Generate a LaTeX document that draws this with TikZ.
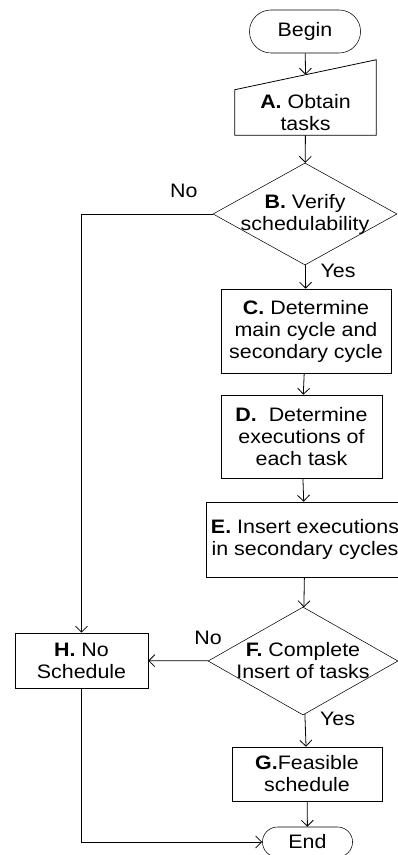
\documentclass[tikz,border=0pt]{standalone}
\usepackage{fontspec}
\setmainfont{Liberation Sans}[FakeStretch=1.1]
\usepackage{tikz}
\usetikzlibrary{arrows.meta,shapes.geometric,shapes.misc,calc}

\begin{document}
\begin{tikzpicture}[x=0.75pt,y=-0.75pt,font=\fontsize{14.6}{16.5}\selectfont,
box/.style 2 args={draw,rectangle,align=center,inner sep=2pt,minimum width=#1,minimum height=#2},
term/.style 2 args={draw,rounded rectangle,minimum width=#1,minimum height=#2},
dec/.style 2 args={draw,diamond,inner sep=0pt,minimum width=#1,minimum height=#2},
arr/.style={-{Straight Barb[length=4.5pt,width=9pt]},line width=0.6pt},
lbl/.style={inner sep=2pt}]
\useasboundingbox (0,0) rectangle (398,855);
\node[term={90pt}{32.25pt}] (start) at (305,31.5) {Begin};
\node[align=center,inner sep=0pt,minimum width=105.75pt,minimum height=33.75pt] (a) at (305.5,112.5) {\textbf{A.} Obtain\\tasks};
\draw[line width=0.6pt] (a.north west) -- (a.south west) -- (a.south east) -- ([yshift=22.5pt]a.north east) -- cycle;
\coordinate (atop) at ($(a.north west)!0.5!([yshift=22.5pt]a.north east)$);
\node[dec={138pt}{76.5pt},label={[align=center]center:{\textbf{B.} Verify\\schedulability}}] (b) at (305,214) {};
\node[box={127.5pt}{63pt}] (c) at (306,331) {\textbf{C.} Determine\\main cycle and\\secondary cycle};
\node[box={120.75pt}{62.25pt}] (d) at (301.5,436.5) {\textbf{D.}\ \ Determine\\executions of\\each task};
\node[box={148.5pt}{56.25pt}] (e) at (305,539.5) {\textbf{E.} Insert executions\\in secondary cycles};
\node[dec={142.5pt}{81pt},label={[align=center]center:{\textbf{F.} Complete\\Insert of tasks}}] (f) at (303,661) {};
\node[box={99.75pt}{41.25pt}] (h) at (81.5,660.5) {\textbf{H.} No\\Schedule};
\node[box={112.5pt}{40.5pt}] (g) at (307,774) {\textbf{G.}Feasible\\schedule};
\node[term={74.25pt}{22.5pt}] (stop) at (307.5,842) {End};
\draw[arr] (start) -- (atop);
\foreach \s/\t in {a/b,c/d,d/e,e/f,g/stop} {
   \draw[arr] (\s) -- (\t);
}
\draw[arr] (b) -- node[lbl,pos=0.25,anchor=west,xshift=9pt] {Yes} (c);
\draw[arr] (b) -| node[lbl,pos=0.11,anchor=south,yshift=10pt] {No} (h);
\draw[arr] (f) -- node[lbl,pos=0,anchor=south,yshift=10pt] {No} (h);
\draw[arr] (f) -- node[lbl,pos=0.15,anchor=west,xshift=9pt] {Yes} (g);
\draw[arr] (h) |- (stop);
\end{tikzpicture}
\end{document}
